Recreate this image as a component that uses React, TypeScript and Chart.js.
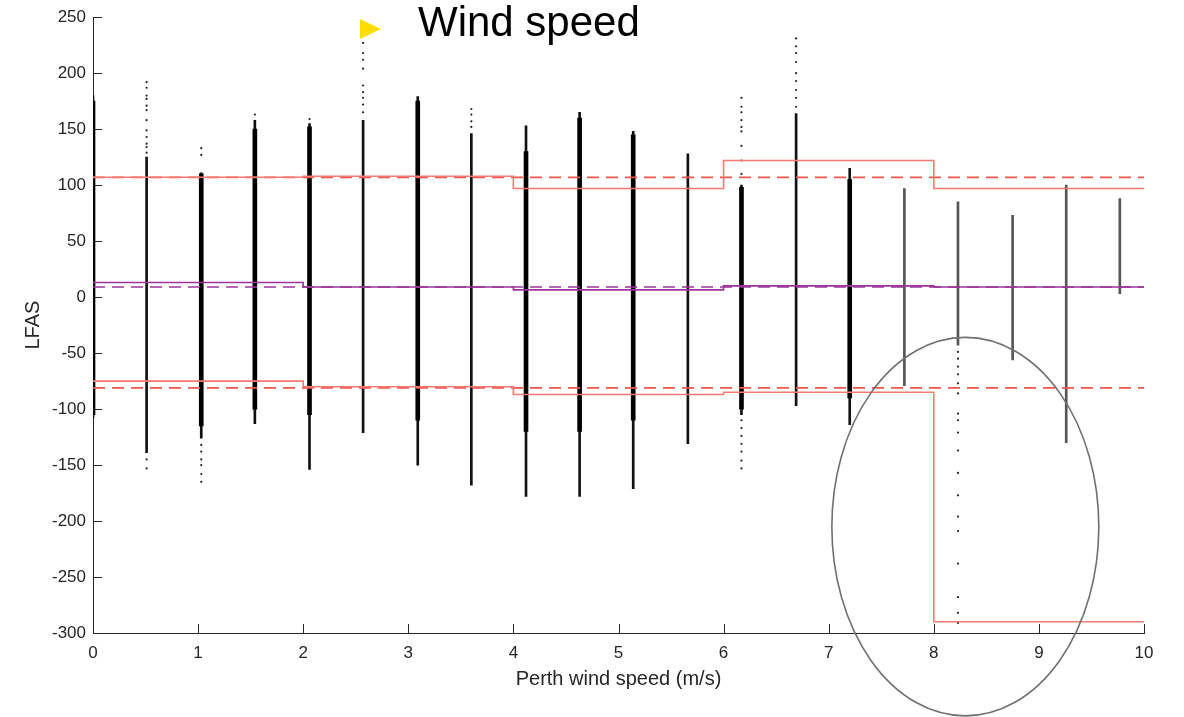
import React, { useEffect, useRef } from "react";
import { Chart, registerables } from "chart.js";

Chart.register(...registerables);

// Wind-speed bins (knots converted to m/s)
const windSpeed = [0, 0.51, 1.03, 1.54, 2.06, 2.57, 3.09, 3.6, 4.12, 4.63, 5.14, 5.66, 6.17, 6.69, 7.2, 7.72, 8.23, 8.75, 9.26, 9.77];
// Full extent of LFAS values in each bin
const rangeLow = [-108, -139, -126, -113, -154, -121, -150, -168, -178, -178, -171, -131, -105, -97, -114, -79, -43, -56, -130, 3];
const rangeHigh = [180, 125, 111, 158, 155, 158, 179, 146, 153, 165, 148, 128, 100, 164, 115, 97, 85, 73, 100, 88];
// Densest part of each bin (null = no dense core)
const coreLow = [-105, null, -115, -100, -105, null, -110, null, -120, -120, -110, null, -100, null, -90, null, null, null, null, null];
const coreHigh = [175, null, 110, 150, 152, null, 175, null, 130, 160, 145, null, 98, null, 105, null, null, null, null, null];
// Sparse bins drawn lighter
const sparseBin = [false, false, false, false, false, false, false, false, false, false, false, false, false, false, false, true, true, true, true, true];

// Scattered outlying observations
const outlierX = [
  0.51, 0.51, 0.51, 0.51, 0.51, 0.51, 0.51, 0.51, 0.51, 0.51, 0.51, 0.51, 0.51, 0.51,
  1.03, 1.03, 1.03, 1.03, 1.03, 1.03, 1.03, 1.03,
  1.54, 2.06,
  2.57, 2.57, 2.57, 2.57, 2.57, 2.57, 2.57, 2.57, 2.57,
  3.6, 3.6, 3.6, 3.6,
  6.17, 6.17, 6.17, 6.17, 6.17, 6.17, 6.17, 6.17, 6.17, 6.17, 6.17, 6.17, 6.17, 6.17, 6.17, 6.17,
  6.69, 6.69, 6.69, 6.69, 6.69, 6.69, 6.69, 6.69, 6.69,
  8.23, 8.23, 8.23, 8.23, 8.23, 8.23, 8.23, 8.23, 8.23, 8.23, 8.23, 8.23, 8.23, 8.23, 8.23, 8.23, 8.23, 8.23,
];
const outlierY = [
  129, 134, 137, 143, 149, 158, 167, 171, 177, 180, 187, 192, -145, -153,
  127, 133, -132, -138, -145, -150, -158, -165,
  163, 159,
  165, 172, 178, 183, 189, 204, 212, 218, 227,
  152, 157, 163, 168,
  110, 122, 135, 148, 152, 158, 165, 170, 178, -110, -117, -124, -131, -138, -146, -153,
  170, 178, 185, 193, 200, 210, 218, 224, 231,
  -49, -55, -62, -69, -77, -86, -104, -110, -121, -137, -157, -177, -196, -209, -238, -268, -282, -291,
];

// Step lines (bins of 2 m/s)
const stepX = [0, 2, 4, 6, 8, 10];
const upperBound = [107, 108, 97, 122, 97, 97];
const upperBoundAll = [107, 107, 107, 107, 107, 107];
const meanLfas = [13, 9, 6.5, 10, 9, 9];
const meanLfasAll = [9, 9, 9, 9, 9, 9];
const lowerBound = [-75, -80, -87, -85, -290, -290];
const lowerBoundAll = [-81, -81, -81, -81, -81, -81];

// Axis ticks
const xTickValues = [0, 1, 2, 3, 4, 5, 6, 7, 8, 9, 10];
const yTickValues = [-300, -250, -200, -150, -100, -50, 0, 50, 100, 150, 200, 250];

// Highlight ellipse (data units)
const highlightCenter = { x: 8.3, y: -205 };
const highlightRadius = { x: 1.27, y: 169 };

const FONT = "'Liberation Sans', Arial, Helvetica, sans-serif";
const AXIS = "#262626";

const steps = (ys: number[]) => stepX.map((x, i) => ({ x, y: ys[i] }));

export default function App() {
  const ref = useRef<HTMLCanvasElement | null>(null);

  useEffect(() => {
    if (!ref.current) return;

    const rangeData = windSpeed.map((x, i) => ({ x, y: [rangeLow[i], rangeHigh[i]] }));
    const coreData = windSpeed
      .map((x, i) => (coreLow[i] === null ? null : { x, y: [coreLow[i], coreHigh[i]] }))
      .filter((d) => d !== null);
    const outliers = outlierX.map((x, i) => ({ x, y: outlierY[i] }));

    const overlay = {
      id: "overlay",
      afterDraw(chart: any) {
        const { ctx, chartArea, scales } = chart;
        const xs = scales.x;
        const ys = scales.y;
        ctx.save();
        ctx.strokeStyle = AXIS;
        ctx.lineWidth = 1;
        ctx.beginPath();
        xTickValues.forEach((v) => {
          const px = Math.round(xs.getPixelForValue(v)) + 0.5;
          ctx.moveTo(px, chartArea.bottom);
          ctx.lineTo(px, chartArea.bottom - 9);
        });
        yTickValues.forEach((v) => {
          const py = Math.round(ys.getPixelForValue(v)) + 0.5;
          ctx.moveTo(chartArea.left, py);
          ctx.lineTo(chartArea.left + 9, py);
        });
        ctx.stroke();

        const cx = xs.getPixelForValue(highlightCenter.x);
        const cy = ys.getPixelForValue(highlightCenter.y);
        const rx = Math.abs(xs.getPixelForValue(highlightCenter.x + highlightRadius.x) - cx);
        const ry = Math.abs(ys.getPixelForValue(highlightCenter.y + highlightRadius.y) - cy);
        ctx.beginPath();
        ctx.strokeStyle = "#707070";
        ctx.lineWidth = 1.6;
        ctx.ellipse(cx, cy, rx, ry, 0, 0, Math.PI * 2);
        ctx.stroke();
        ctx.restore();
      },
    };

    const lineDs = (label: string, ys: number[], color: string, dashed: boolean, width: number) => ({
      type: "line" as const,
      label,
      data: steps(ys),
      stepped: true,
      borderColor: color,
      borderWidth: width,
      borderDash: dashed ? [12, 7] : [],
      pointRadius: 0,
      fill: false,
      order: 0,
    });

    const chart = new Chart(ref.current, {
      type: "bar",
      data: {
        datasets: [
          lineDs("Upper (bin)", upperBound, "#f47a72", false, 1.6),
          lineDs("Upper (all)", upperBoundAll, "#f0564c", true, 1.8),
          lineDs("Mean (bin)", meanLfas, "#9b359b", false, 1.6),
          lineDs("Mean (all)", meanLfasAll, "#9b359b", true, 1.6),
          lineDs("Lower (bin)", lowerBound, "#f47a72", false, 1.6),
          lineDs("Lower (all)", lowerBoundAll, "#f0564c", true, 1.8),
          {
            type: "scatter" as const,
            label: "Outliers",
            data: outliers,
            pointRadius: 1.1,
            pointBorderWidth: 0,
            pointBackgroundColor: "#222",
            order: 2,
          },
          {
            type: "bar" as const,
            label: "Core",
            data: coreData as any,
            backgroundColor: "#000",
            barThickness: 4,
            grouped: false,
            borderWidth: 0,
            order: 3,
          },
          {
            type: "bar" as const,
            label: "Range",
            data: rangeData as any,
            backgroundColor: sparseBin.map((s) => (s ? "#555555" : "#111")),
            barThickness: 2,
            grouped: false,
            borderWidth: 0,
            order: 4,
          },
        ],
      },
      options: {
        animation: false,
        responsive: false,
        maintainAspectRatio: false,
        layout: { padding: { left: 0, right: 40, top: 17, bottom: 0 } },
        plugins: { legend: { display: false }, tooltip: { enabled: false } },
        scales: {
          x: {
            type: "linear",
            min: 0,
            max: 10,
            offset: false,
            afterFit: (s: any) => {
              s.height = 84;
            },
            afterBuildTicks: (s: any) => {
              s.ticks = xTickValues.map((v) => ({ value: v }));
            },
            grid: { display: true, drawOnChartArea: false, drawTicks: false, offset: false },
            border: { display: true, color: AXIS, width: 1 },
            ticks: {
              color: AXIS,
              padding: 10,
              maxRotation: 0,
              font: { family: FONT, size: 17 },
              callback: (v: any) => String(v),
            },
            title: {
              display: true,
              text: "Perth wind speed (m/s)",
              color: AXIS,
              font: { family: FONT, size: 20 },
              padding: { top: 0, bottom: 26 },
            },
          },
          y: {
            type: "linear",
            min: -300,
            max: 250,
            afterFit: (s: any) => {
              s.width = 93;
            },
            afterBuildTicks: (s: any) => {
              s.ticks = yTickValues.map((v) => ({ value: v }));
            },
            grid: { display: true, drawOnChartArea: false, drawTicks: false },
            border: { display: true, color: AXIS, width: 1 },
            ticks: {
              color: AXIS,
              padding: 7,
              font: { family: FONT, size: 17 },
              callback: (v: any) => String(v),
            },
            title: {
              display: true,
              text: "LFAS",
              color: AXIS,
              font: { family: FONT, size: 20 },
              padding: { top: 21, bottom: 0 },
            },
          },
        },
      },
      plugins: [overlay],
    } as any);

    return () => chart.destroy();
  }, []);

  return (
    <div style={{ position: "absolute", left: 0, top: 0, width: 1184, height: 717, background: "#fff", overflow: "hidden" }}>
      <canvas ref={ref} width={1184} height={717} style={{ display: "block" }} />
      <div
        style={{
          position: "absolute",
          left: 360,
          top: 19,
          width: 0,
          height: 0,
          borderLeft: "21px solid #ffdd00",
          borderTop: "10px solid transparent",
          borderBottom: "10px solid transparent",
        }}
      />
      <div
        style={{
          position: "absolute",
          left: 418,
          top: 1,
          fontFamily: FONT,
          fontSize: 42,
          lineHeight: "42px",
          color: "#000",
          whiteSpace: "nowrap",
        }}
      >
        Wind speed
      </div>
    </div>
  );
}
